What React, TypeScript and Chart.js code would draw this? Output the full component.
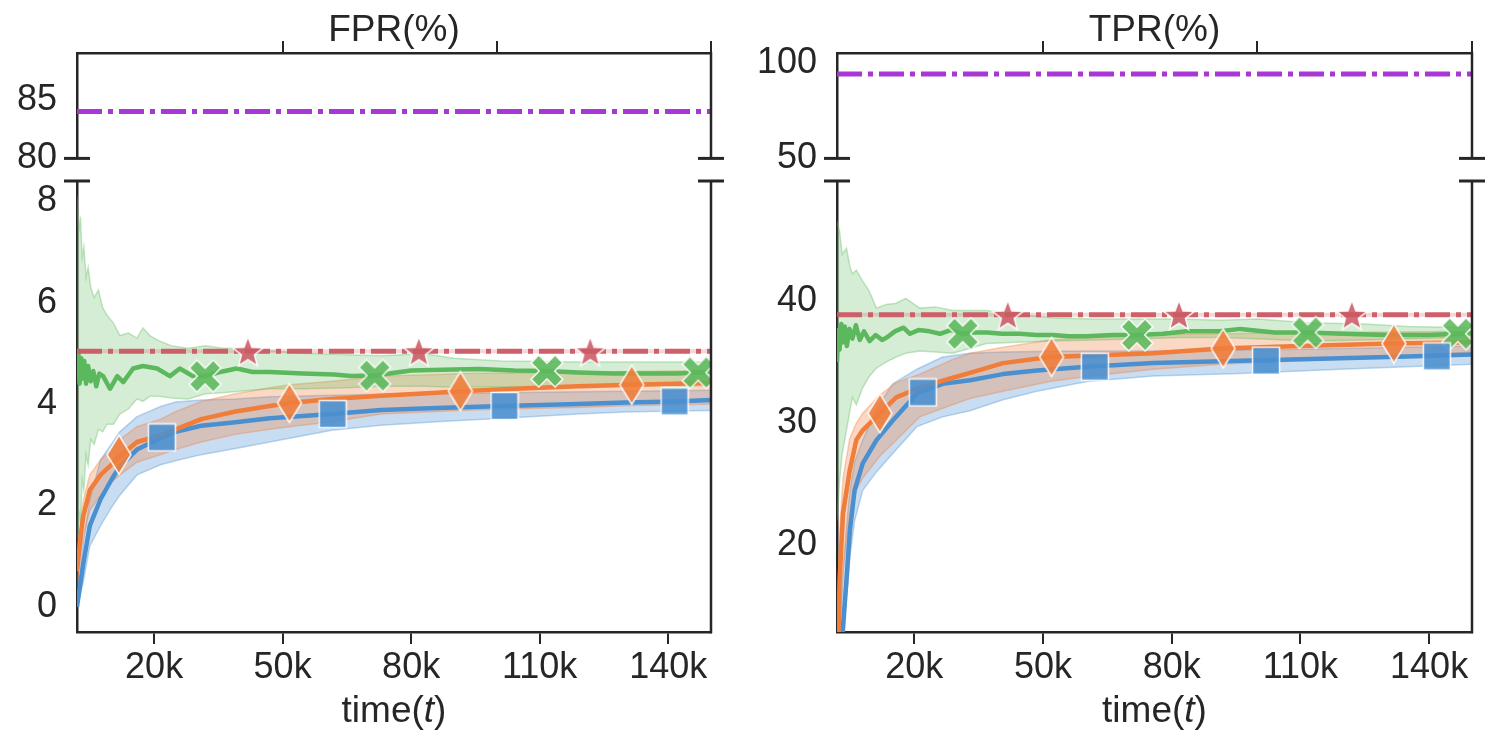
import React, { useEffect, useRef } from 'react';
import { Chart, registerables } from 'chart.js';

Chart.register(...registerables);

const FONT = "'Liberation Sans', Arial, sans-serif";
const INK = '#262626';
const BLUE = [74, 144, 208];
const ORANGE = [240, 125, 58];
const GREEN = [92, 184, 92];
const RED = [204, 90, 100];
const PURPLE = '#a838d6';

const X_MIN = 2000;
const X_MAX = 150000;
const bottomTicks = [20000, 50000, 80000, 110000, 140000];
const topTicks = [50000, 100000, 150000];

// ---- FPR (times in thousands) ----
const fprBlueT = [2, 3.5, 5, 7.5, 10, 12, 16, 21.5, 25, 31, 39, 47, 61.5, 73, 86, 101.5, 119, 130, 141.5, 150];
const fprBlueMean = [0, 0.87, 1.6, 2.12, 2.5, 2.77, 3.1, 3.33, 3.45, 3.57, 3.64, 3.72, 3.8, 3.88, 3.92, 3.96, 4.0, 4.03, 4.05, 4.08];
const fprBlueHigh = [0.2, 1.3, 2.1, 2.9, 3.2, 3.45, 3.75, 3.95, 4.04, 4.08, 4.1, 4.14, 4.17, 4.19, 4.2, 4.22, 4.24, 4.25, 4.26, 4.27];
const fprBlueLow = [0, 0.5, 1.2, 1.6, 1.95, 2.2, 2.6, 2.8, 2.88, 3.0, 3.12, 3.25, 3.48, 3.58, 3.65, 3.72, 3.8, 3.84, 3.86, 3.87];

const fprOrangeT = [2, 3, 3.5, 5, 7.5, 10, 12, 16, 21.5, 25, 31, 39, 47, 51.6, 61.5, 73, 86, 91.5, 101.5, 119, 131.5, 141.5, 150];
const fprOrangeMean = [0.7, 1.5, 1.8, 2.3, 2.6, 2.8, 2.97, 3.25, 3.38, 3.5, 3.7, 3.85, 3.96, 4.02, 4.1, 4.16, 4.22, 4.25, 4.29, 4.35, 4.38, 4.4, 4.42];
const fprOrangeHigh = [1.0, 1.8, 2.1, 2.6, 2.9, 3.1, 3.3, 3.55, 3.7, 3.85, 4.05, 4.2, 4.32, 4.38, 4.45, 4.55, 4.58, 4.6, 4.61, 4.62, 4.64, 4.65, 4.65];
const fprOrangeLow = [0.4, 1.1, 1.4, 1.9, 2.2, 2.45, 2.6, 2.85, 3.0, 3.1, 3.25, 3.4, 3.5, 3.55, 3.65, 3.8, 3.85, 3.87, 3.9, 3.93, 3.97, 3.98, 4.0];

const fprGreenT = [2, 2.3, 2.6, 3.0, 3.3, 3.7, 4.1, 4.6, 5.2, 5.8, 6.5, 7.2, 8.1, 9.7, 11.4, 12.8, 15.1, 17.4, 20.7, 23.7, 26, 29, 31.9, 35.4, 39.3, 43, 47, 54.7, 62, 66, 71.5, 80, 90, 96, 104, 111.7, 119, 127, 135, 142, 147, 150];
const fprGreenMean = [4.6, 5.05, 4.4, 4.9, 4.5, 4.85, 4.4, 4.75, 4.45, 4.65, 4.35, 4.6, 4.55, 4.3, 4.55, 4.43, 4.7, 4.75, 4.7, 4.55, 4.7, 4.55, 4.55, 4.63, 4.7, 4.63, 4.63, 4.6, 4.58, 4.55, 4.56, 4.66, 4.68, 4.69, 4.66, 4.65, 4.62, 4.6, 4.6, 4.6, 4.62, 4.63];
const fprGreenBandT = [2, 2.4, 2.8, 3.2, 3.6, 4.1, 4.6, 5.2, 6, 7, 8, 9, 10.5, 12, 14, 16, 17.4, 19, 21, 24, 28, 32, 36, 40, 47, 55, 65, 73, 83, 90, 101, 120, 135, 150];
const fprGreenHigh = [8.1, 7.4, 7.7, 6.9, 7.1, 6.5, 6.7, 6.3, 6.1, 6.25, 5.9, 5.75, 5.6, 5.35, 5.4, 5.3, 5.5, 5.35, 5.25, 5.15, 5.1, 5.15, 5.1, 5.1, 5.05, 5.0, 4.97, 4.95, 4.99, 4.9, 4.85, 4.83, 4.83, 4.83];
const fprGreenLow = [1.0, 1.9, 1.6, 2.5, 2.3, 3.0, 2.8, 3.3, 3.2, 3.5, 3.45, 3.6, 3.6, 3.8, 3.9, 4.1, 4.05, 4.15, 4.15, 4.12, 4.1, 4.2, 4.22, 4.25, 4.3, 4.3, 4.32, 4.35, 4.35, 4.33, 4.34, 4.35, 4.36, 4.36];

const fprRed = 5.04;
const fprPurple = 84.0;

const fprOrangeMarkT = [11.8, 51.6, 91.5, 131.5];
const fprOrangeMarkV = [3.0, 4.02, 4.25, 4.38];
const fprBlueMarkT = [21.8, 61.7, 101.8, 141.5];
const fprBlueMarkV = [3.34, 3.8, 3.96, 4.05];
const fprGreenMarkT = [31.9, 71.5, 111.7, 147];
const fprGreenMarkV = [4.55, 4.56, 4.65, 4.62];
const fprRedMarkT = [41.9, 81.8, 121.8];

// ---- TPR (times in thousands) ----
const tprBlueT = [2, 3.3, 4.2, 5, 6.1, 8, 11.2, 15, 20.6, 26.6, 33, 40.7, 48.6, 60.3, 75.7, 96, 119.3, 135, 150];
const tprBlueMean = [5, 12.9, 17.1, 21.2, 24.5, 26.7, 28.6, 30.2, 32.4, 33.2, 33.5, 34.0, 34.3, 34.6, 34.9, 35.1, 35.3, 35.45, 35.6];
const tprBlueHigh = [9, 17, 21.5, 24.5, 26.8, 28.6, 31.2, 33.2, 34.4, 35.4, 35.7, 35.8, 35.85, 35.9, 35.9, 35.95, 36.1, 36.2, 36.3];
const tprBlueLow = [2, 10, 15.5, 19, 22, 24.5, 26, 27.5, 29.7, 30.5, 31.0, 31.9, 32.6, 33.4, 33.85, 34.05, 34.4, 34.6, 34.8];

const tprOrangeT = [2, 2.35, 2.6, 3.4, 4.95, 6.5, 8, 12, 15.8, 21.3, 29, 33, 40.7, 51.6, 60.3, 75.7, 91.5, 110, 131.5, 150];
const tprOrangeMean = [8, 12.9, 17.1, 22.6, 26.1, 28.6, 29.4, 30.8, 32.1, 32.9, 33.7, 34.1, 34.9, 35.4, 35.5, 35.7, 36.1, 36.3, 36.5, 36.6];
const tprOrangeHigh = [12, 17, 21, 25.5, 28.7, 30, 30.8, 32.3, 33.3, 34.0, 35.2, 35.7, 36.2, 36.8, 37.0, 37.2, 37.3, 37.4, 37.45, 37.5];
const tprOrangeLow = [5, 9, 13, 18, 22.5, 24.5, 25.5, 27.3, 28.6, 30.5, 31.5, 32.0, 32.6, 33.4, 33.8, 34.4, 34.8, 35.1, 35.4, 35.8];

const tprGreenT = [2, 2.3, 2.6, 3.0, 3.4, 3.8, 4.3, 4.9, 5.6, 6.4, 7.3, 8.3, 9.6, 11, 12.5, 13.6, 15.5, 17.5, 19, 21, 23.6, 26, 28.5, 31.3, 34, 36.9, 40.5, 44.6, 48.5, 52.3, 56, 60.2, 66, 71.9, 78, 83.5, 91.2, 96, 104, 111.7, 120, 130, 140, 146.7, 150];
const tprGreenMean = [35.0, 37.6, 36.0, 38.1, 36.6, 37.9, 36.3, 37.7, 36.9, 38.0, 36.8, 37.5, 36.7, 37.2, 36.8, 37.0, 37.5, 37.8, 37.3, 37.6, 37.5, 37.3, 37.6, 37.3, 37.4, 37.4, 37.3, 37.3, 37.2, 37.2, 37.1, 37.1, 37.2, 37.2, 37.3, 37.5, 37.5, 37.7, 37.4, 37.4, 37.3, 37.2, 37.2, 37.3, 37.35];
const tprGreenBandT = [2, 2.6, 3.2, 4.2, 5, 5.6, 6.5, 8, 9.5, 11.2, 13.5, 15.8, 18, 21.3, 25, 29, 36.9, 44, 52.3, 62, 72.6, 82, 91.3, 100, 111.6, 125, 135, 150];
const tprGreenHigh = [46.5, 45.7, 43.8, 44.3, 42.8, 42.2, 42.5, 41.6, 40.8, 39.4, 39.7, 39.8, 40.2, 39.4, 39.5, 39.2, 39.2, 38.9, 38.6, 38.5, 38.5, 38.5, 38.4, 38.5, 38.2, 38.1, 37.9, 37.8];
const tprGreenLow = [22, 25.3, 27.5, 29.4, 31.0, 32.1, 31.5, 32.9, 33.8, 34.5, 35.0, 35.4, 35.7, 35.9, 35.8, 35.7, 36.5, 36.6, 36.7, 36.8, 36.9, 37.0, 37.0, 36.9, 36.7, 36.8, 36.9, 37.0];

const tprRed = 38.85;
const tprPurple = 94;

const tprOrangeMarkT = [12, 52, 92, 131.8];
const tprOrangeMarkV = [30.8, 35.4, 36.1, 36.5];
const tprBlueMarkT = [22, 62.1, 102, 141.8];
const tprBlueMarkV = [32.5, 34.6, 35.1, 35.45];
const tprGreenMarkT = [31.3, 71.9, 111.7, 146.7];
const tprGreenMarkV = [37.3, 37.2, 37.4, 37.3];
const tprRedMarkT = [41.8, 81.7, 122];

const TICK_SIZE = 36;
const LABEL_SIZE = 37;

const rgba = (c: number[], a: number) => `rgba(${c[0]},${c[1]},${c[2]},${a})`;
const pts = (t: number[], v: number[]) => t.map((k, i) => ({ x: k * 1000, y: v[i] }));
const flat = (y: number) => [{ x: X_MIN, y }, { x: X_MAX, y }];

// filled marker glyphs with a white edge, like matplotlib's
function markerImage(kind: string, color: number[]) {
	const c = document.createElement('canvas');
	const [w, h] = kind === 'diamond' ? [28, 42] : kind === 'square' ? [30, 30] : [38, 38];
	c.width = w;
	c.height = h;
	const ctx = c.getContext('2d')!;
	const cx = w / 2;
	const cy = h / 2;
	ctx.beginPath();
	if (kind === 'square') {
		ctx.rect(1.5, 1.5, 27, 27);
	} else if (kind === 'diamond') {
		ctx.moveTo(cx, 1.5);
		ctx.lineTo(w - 2, cy);
		ctx.lineTo(cx, h - 1.5);
		ctx.lineTo(2, cy);
		ctx.closePath();
	} else if (kind === 'x') {
		const a = 5.5;
		const L = 17;
		const base = [[a, L], [a, a], [L, a], [L, -a], [a, -a], [a, -L], [-a, -L], [-a, -a], [-L, -a], [-L, a], [-a, a], [-a, L]];
		base.forEach(([px, py], i) => {
			const qx = cx + (px - py) * Math.SQRT1_2;
			const qy = cy + (px + py) * Math.SQRT1_2;
			if (i === 0) ctx.moveTo(qx, qy);
			else ctx.lineTo(qx, qy);
		});
		ctx.closePath();
	} else {
		for (let i = 0; i < 10; i++) {
			const r = i % 2 ? 6.8 : 16;
			const ang = -Math.PI / 2 + (i * Math.PI) / 5;
			const qx = cx + r * Math.cos(ang);
			const qy = cy + 1.5 + r * Math.sin(ang);
			if (i === 0) ctx.moveTo(qx, qy);
			else ctx.lineTo(qx, qy);
		}
		ctx.closePath();
	}
	ctx.fillStyle = rgba(color, 0.88);
	ctx.fill();
	ctx.strokeStyle = 'rgba(255,255,255,0.9)';
	ctx.lineWidth = 1.5;
	ctx.stroke();
	return c;
}

interface Series {
	t: number[];
	mean: number[];
	bandT: number[];
	high: number[];
	low: number[];
	markT: number[];
	markV: number[];
}

function bottomDatasets(blue: Series, orange: Series, green: Series, red: number, redMarkT: number[]) {
	const ds: any[] = [];
	const addBand = (s: Series, c: number[], alpha: number, order: number) => {
		const i = ds.length;
		ds.push({ data: pts(s.bandT, s.high), borderColor: rgba(c, 0.35), borderWidth: 1.5, backgroundColor: rgba(c, alpha), fill: i + 1, pointRadius: 0, order });
		ds.push({ data: pts(s.bandT, s.low), borderColor: rgba(c, 0.35), borderWidth: 1.5, fill: false, pointRadius: 0, order });
	};
	const addLine = (s: Series, c: number[], order: number) => {
		ds.push({ data: pts(s.t, s.mean), borderColor: rgba(c, 1), borderWidth: 4.5, borderJoinStyle: 'round', fill: false, pointRadius: 0, order });
	};
	const addMarks = (t: number[], v: number[], img: HTMLCanvasElement) => {
		ds.push({ data: pts(t, v), showLine: false, pointStyle: img, pointRadius: 12, borderWidth: 0, order: 1 });
	};
	addBand(blue, BLUE, 0.3, 9);
	addBand(orange, ORANGE, 0.3, 8);
	addBand(green, GREEN, 0.26, 7);
	addLine(blue, BLUE, 6);
	addLine(orange, ORANGE, 5);
	addLine(green, GREEN, 4);
	ds.push({ data: flat(red), borderColor: rgba(RED, 0.25), borderWidth: 4, pointRadius: 0, fill: false, order: 3 });
	ds.push({ data: flat(red), borderColor: rgba(RED, 0.95), borderWidth: 5, borderDash: [25, 6, 5, 6], pointRadius: 0, fill: false, order: 2 });
	addMarks(orange.markT, orange.markV, markerImage('diamond', ORANGE));
	addMarks(blue.markT, blue.markV, markerImage('square', BLUE));
	addMarks(green.markT, green.markV, markerImage('x', GREEN));
	addMarks(redMarkT, redMarkT.map(() => red), markerImage('star', RED));
	return ds;
}

const topDatasets = (y: number) => [
	{ data: flat(y), borderColor: PURPLE, borderWidth: 5, borderDash: [25, 6, 5, 6], pointRadius: 0, fill: false },
];

type Part = 'top' | 'bottom';

interface PanelSpec {
	part: Part;
	left: number;
	right: number;
	width: number;
	height: number;
	yMin: number;
	yMax: number;
	yTicks: number[];
	title?: string;
	datasets: () => any[];
}

function decorPlugin(spec: PanelSpec) {
	return {
		id: 'decor',
		afterDraw(chart: any) {
			const { ctx, chartArea: a } = chart;
			ctx.save();
			ctx.strokeStyle = INK;
			ctx.lineWidth = 2.5;
			ctx.beginPath();
			ctx.moveTo(a.right, a.top - (spec.part === 'top' ? 1.25 : 0));
			ctx.lineTo(a.right, a.bottom + (spec.part === 'bottom' ? 1.25 : 0));
			ctx.stroke();
			// break marks
			const yb = spec.part === 'top' ? a.bottom : a.top;
			ctx.lineWidth = 3;
			for (const xe of [a.left, a.right]) {
				ctx.beginPath();
				ctx.moveTo(xe - 13, yb);
				ctx.lineTo(xe + 13, yb);
				ctx.stroke();
			}
			ctx.fillStyle = INK;
			ctx.textBaseline = 'middle';
			const cx = (a.left + a.right) / 2;
			if (spec.part === 'top' && spec.title) {
				ctx.font = `${LABEL_SIZE}px ${FONT}`;
				ctx.textAlign = 'center';
				ctx.fillText(spec.title, cx, 31);
			}
			if (spec.part === 'bottom') {
				const bits: [string, string][] = [['time(', ''], ['t', 'italic '], [')', '']];
				ctx.textAlign = 'left';
				let total = 0;
				for (const [s, st] of bits) {
					ctx.font = `${st}${LABEL_SIZE}px ${FONT}`;
					total += ctx.measureText(s).width;
				}
				let x = cx - total / 2;
				for (const [s, st] of bits) {
					ctx.font = `${st}${LABEL_SIZE}px ${FONT}`;
					ctx.fillText(s, x, 712);
					x += ctx.measureText(s).width;
				}
			}
			ctx.restore();
		},
	};
}

function buildConfig(spec: PanelSpec): any {
	const isTop = spec.part === 'top';
	const tickFont = { family: FONT, size: TICK_SIZE };
	return {
		type: 'line',
		data: { datasets: spec.datasets() },
		options: {
			animation: false,
			responsive: true,
			maintainAspectRatio: false,
			events: [],
			layout: {
				padding: {
					left: 0,
					right: spec.width - spec.right,
					top: isTop ? 0 : 181,
					bottom: isTop ? spec.height - 167 : 0,
				},
			},
			plugins: { legend: { display: false }, tooltip: { enabled: false } },
			scales: {
				x: {
					type: 'linear',
					position: isTop ? 'top' : 'bottom',
					min: X_MIN,
					max: X_MAX,
					afterBuildTicks: (s: any) => {
						s.ticks = (isTop ? topTicks : bottomTicks).map((value) => ({ value }));
					},
					afterFit: (s: any) => {
						s.height = isTop ? 53 : spec.height - 632;
					},
					grid: { display: true, drawOnChartArea: false, drawTicks: true, tickLength: 12, color: INK, lineWidth: 2 },
					border: { display: true, color: INK, width: 2.5 },
					ticks: {
						display: !isTop,
						font: tickFont,
						color: INK,
						padding: 2,
						maxRotation: 0,
						autoSkip: false,
						callback: (v: any) => `${Number(v) / 1000}k`,
					},
				},
				y: {
					type: 'linear',
					min: spec.yMin,
					max: spec.yMax,
					afterBuildTicks: (s: any) => {
						s.ticks = spec.yTicks.map((value) => ({ value }));
					},
					afterFit: (s: any) => {
						s.width = spec.left;
					},
					grid: { display: false, drawTicks: false },
					border: { display: true, color: INK, width: 2.5 },
					ticks: { font: tickFont, color: INK, padding: 20, autoSkip: false, callback: (v: any) => String(v) },
				},
			},
		},
		plugins: [decorPlugin(spec)],
	};
}

const fprSeries = {
	blue: { t: fprBlueT, mean: fprBlueMean, bandT: fprBlueT, high: fprBlueHigh, low: fprBlueLow, markT: fprBlueMarkT, markV: fprBlueMarkV },
	orange: { t: fprOrangeT, mean: fprOrangeMean, bandT: fprOrangeT, high: fprOrangeHigh, low: fprOrangeLow, markT: fprOrangeMarkT, markV: fprOrangeMarkV },
	green: { t: fprGreenT, mean: fprGreenMean, bandT: fprGreenBandT, high: fprGreenHigh, low: fprGreenLow, markT: fprGreenMarkT, markV: fprGreenMarkV },
};
const tprSeries = {
	blue: { t: tprBlueT, mean: tprBlueMean, bandT: tprBlueT, high: tprBlueHigh, low: tprBlueLow, markT: tprBlueMarkT, markV: tprBlueMarkV },
	orange: { t: tprOrangeT, mean: tprOrangeMean, bandT: tprOrangeT, high: tprOrangeHigh, low: tprOrangeLow, markT: tprOrangeMarkT, markV: tprOrangeMarkV },
	green: { t: tprGreenT, mean: tprGreenMean, bandT: tprGreenBandT, high: tprGreenHigh, low: tprGreenLow, markT: tprGreenMarkT, markV: tprGreenMarkV },
};

const fprTop: PanelSpec = {
	part: 'top', left: 77, right: 711, width: 750, height: 200,
	yMin: 80, yMax: 89, yTicks: [80, 85], title: 'FPR(%)',
	datasets: () => topDatasets(fprPurple),
};
const fprBottom: PanelSpec = {
	part: 'bottom', left: 77, right: 711, width: 750, height: 747,
	yMin: -0.5, yMax: 8.4, yTicks: [0, 2, 4, 6, 8],
	datasets: () => bottomDatasets(fprSeries.blue, fprSeries.orange, fprSeries.green, fprRed, fprRedMarkT),
};
const tprTop: PanelSpec = {
	part: 'top', left: 87, right: 722, width: 749, height: 200,
	yMin: 50, yMax: 105, yTicks: [50, 100], title: 'TPR(%)',
	datasets: () => topDatasets(tprPurple),
};
const tprBottom: PanelSpec = {
	part: 'bottom', left: 87, right: 722, width: 749, height: 747,
	yMin: 12.9, yMax: 49.8, yTicks: [20, 30, 40],
	datasets: () => bottomDatasets(tprSeries.blue, tprSeries.orange, tprSeries.green, tprRed, tprRedMarkT),
};

function ChartPanel({ spec, x }: { spec: PanelSpec; x: number }) {
	const canvasRef = useRef<HTMLCanvasElement>(null);

	useEffect(() => {
		if (!canvasRef.current) return;
		const chart = new Chart(canvasRef.current, buildConfig(spec));
		return () => {
			chart.destroy();
		};
	}, [spec]);

	return (
		<div style={{ position: 'absolute', left: x, top: 0, width: spec.width, height: spec.height }}>
			<canvas ref={canvasRef}></canvas>
		</div>
	);
}

export default function App() {
	return (
		<div style={{ position: 'absolute', left: 0, top: 0, width: 1499, height: 747, background: '#fff' }}>
			<ChartPanel spec={fprBottom} x={0} />
			<ChartPanel spec={fprTop} x={0} />
			<ChartPanel spec={tprBottom} x={750} />
			<ChartPanel spec={tprTop} x={750} />
		</div>
	);
}
